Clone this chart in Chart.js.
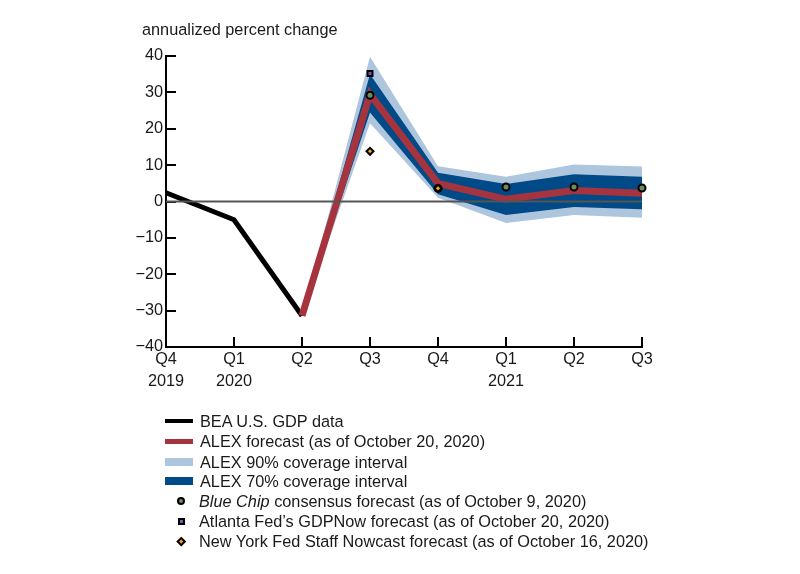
<!DOCTYPE html>
<html>
<head>
<meta charset="utf-8">
<title>ALEX forecast</title>
<script src="https://cdn.jsdelivr.net/npm/chart.js@4"></script>
<style>
  html, body { margin: 0; padding: 0; background: #fff; }
  body { width: 800px; height: 574px; position: relative; overflow: hidden;
         font-family: "Liberation Sans", sans-serif; font-size: 16.3px; color: #1a1a1a; }
  canvas { position: absolute; left: 0; top: 0; }
  #unit { position: absolute; left: 142px; top: 20px; line-height: 18px; white-space: nowrap; }
  .row { position: absolute; left: 0; height: 20px; line-height: 20px; white-space: nowrap; }
  .row span.txt { position: absolute; top: 0; }
  .swatch { position: absolute; left: 165px; width: 28px; }
  .mark { position: absolute; box-sizing: border-box; border: 2px solid #000; }
</style>
</head>
<body>
<canvas id="chartArea" width="800" height="574"></canvas>
<div id="unit">annualized percent change</div>
<div id="legendBox"></div>

<script>
// data
const quarters = [['Q4', '2019'], ['Q1', '2020'], 'Q2', 'Q3', 'Q4', ['Q1', '2021'], 'Q2', 'Q3'];
const beaData = [2.4, -5, -31.4, null, null, null, null, null];
const alexForecast = [null, null, -31.4, 29.5, 5, 0.6, 3, 2.3];
const upper90 = [null, null, -31.4, 39.8, 9.7, 6.8, 10.2, 9.6];
const lower90 = [null, null, -31.4, 21.5, 1, -5.9, -3.7, -4.5];
const upper70 = [null, null, -31.4, 35, 7.9, 4.8, 7.5, 6.8];
const lower70 = [null, null, -31.4, 24.5, 2, -3.7, -1.5, -2.1];
const blueChip = [null, null, null, 29.2, 3.6, 4, 4, 3.7];
const gdpNow = [null, null, null, 35.2, null, null, null, null];
const nyFed = [null, null, null, 13.8, 3.6, null, null, null];
const zeroLine = [0, 0, 0, 0, 0, 0, 0, 0];

const BLACK = '#000000';
const RED = '#a5343f';
const LIGHT = '#aec5de';
const DARK = '#004b87';
const GREEN = '#6d8c60';
const PURPLE = '#7b58b5';
const ORANGE = '#f0a51e';

function bandLine(values, color, fill, order) {
  return { data: values, borderWidth: 0, pointRadius: 0, backgroundColor: color, fill: fill, order: order };
}
// lower order is drawn on top
function markers(values, style, color, radius, order) {
  return {
    data: values, showLine: false, clip: false, order: order,
    pointStyle: style, pointRadius: radius,
    pointBackgroundColor: color, pointBorderColor: BLACK, pointBorderWidth: 2
  };
}

const font = { family: '"Liberation Sans", sans-serif', size: 16.3 };

new Chart(document.getElementById('chartArea'), {
  type: 'line',
  data: {
    labels: quarters,
    datasets: [
      bandLine(upper90, LIGHT, '+1', 9),
      bandLine(lower90, LIGHT, false, 9),
      bandLine(upper70, DARK, '+1', 8),
      bandLine(lower70, DARK, false, 8),
      { data: beaData, borderColor: BLACK, borderWidth: 5, pointRadius: 0, order: 7 },
      { data: alexForecast, borderColor: RED, borderWidth: 7, pointRadius: 0, order: 6 },
      { data: zeroLine, borderColor: '#555555', borderWidth: 2, pointRadius: 0, order: 5 },
      markers(blueChip, 'circle', GREEN, 3.5, 3),
      markers(gdpNow, 'rect', PURPLE, 3.5, 2),
      markers(nyFed, 'rectRot', ORANGE, 3.5, 1)
    ]
  },
  options: {
    responsive: false,
    animation: false,
    layout: { padding: { top: 56, right: 158, left: 0, bottom: 0 } },
    plugins: { legend: { display: false }, tooltip: { enabled: false } },
    scales: {
      x: {
        offset: false,
        afterFit: s => { s.height = 227; },
        border: { color: BLACK, width: 2 },
        grid: { drawOnChartArea: false, color: BLACK, lineWidth: 2, tickLength: -10 },
        ticks: { color: '#1a1a1a', font: { ...font, lineHeight: 1.35 }, padding: 12, autoSkip: false, maxRotation: 0 }
      },
      y: {
        min: -40,
        max: 40,
        afterFit: s => { s.width = 166; },
        border: { color: BLACK, width: 2 },
        grid: { drawOnChartArea: false, color: BLACK, lineWidth: 2, tickLength: -10 },
        ticks: {
          color: '#1a1a1a', font: font, padding: 13, stepSize: 10,
          callback: v => (v < 0 ? '\u2212' + (-v) : String(v))
        }
      }
    }
  }
});

// legend
const lineLegend = [
  ['BEA U.S. GDP data', BLACK, 4, 421],
  ['ALEX forecast (as of October 20, 2020)', RED, 5, 441],
  ['ALEX 90% coverage interval', LIGHT, 8, 462],
  ['ALEX 70% coverage interval', DARK, 8, 481]
];
const markLegend = [
  ['<em>Blue Chip</em> consensus forecast (as of October 9, 2020)', GREEN, 'border-radius:50%;', 8, 501],
  ['Atlanta Fed\u2019s GDPNow forecast (as of October 20, 2020)', PURPLE, '', 7, 521],
  ['New York Fed Staff Nowcast forecast (as of October 16, 2020)', ORANGE, 'transform:rotate(45deg);', 6.5, 541]
];

const box = document.getElementById('legendBox');
let html = '';
lineLegend.forEach(([label, color, h, y]) => {
  html += `<div class="swatch" style="top:${y - h / 2}px;height:${h}px;background:${color}"></div>`;
  html += `<div class="row" style="top:${y - 10}px"><span class="txt" style="left:200px">${label}</span></div>`;
});
markLegend.forEach(([label, color, extra, size, y]) => {
  html += `<div class="mark" style="left:${181 - size / 2}px;top:${y - size / 2}px;width:${size}px;height:${size}px;background:${color};${extra}"></div>`;
  html += `<div class="row" style="top:${y - 10}px"><span class="txt" style="left:199px">${label}</span></div>`;
});
box.innerHTML = html;
</script>
</body>
</html>
